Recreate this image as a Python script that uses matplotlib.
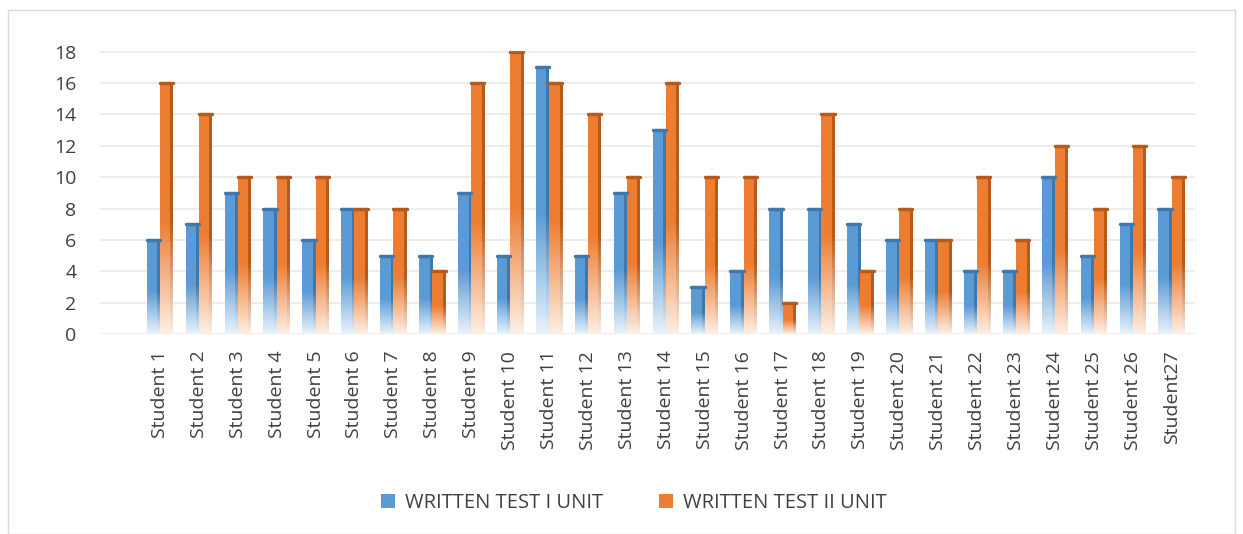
import numpy as np
import matplotlib.pyplot as plt
from matplotlib.colors import LinearSegmentedColormap
from matplotlib.patches import Patch, Rectangle

students = [f"Student {i}" for i in range(1, 27)] + ["Student27"]
test1 = [6, 7, 9, 8, 6, 8, 5, 5, 9, 5, 17, 5, 9, 13, 3, 4, 8, 8, 7, 6, 6, 4, 4, 10, 5, 7, 8]
test2 = [16, 14, 10, 10, 10, 8, 8, 4, 16, 18, 16, 14, 10, 16, 10, 10, 2, 14, 4, 8, 6, 10, 6, 12, 8, 12, 10]
series_names = ["WRITTEN TEST I UNIT", "WRITTEN TEST II UNIT"]

plt.rcParams['font.family'] = ['Open Sans', 'DejaVu Sans']

blue, blue_dark, blue_light = "#5b9bd5", "#3f78ad", "#e8f2fb"
orange, orange_dark, orange_light = "#ed7d31", "#b85a1c", "#fdeee3"

fig = plt.figure(figsize=(12.43, 5.34), dpi=100)
ax = fig.add_axes([100 / 1243, 200 / 534, 1095 / 1243, 283 / 534])

# outer chart border
fig.patches.append(Rectangle((8 / 1243, 0), 1227 / 1243, 524 / 534, transform=fig.transFigure,
                             fill=False, edgecolor="#d9d9d9", lw=1))

def grad_cmap(light, col):
    # light at the bottom, solid from mid height upwards
    return LinearSegmentedColormap.from_list("g", [(0, light), (0.45, col), (1, col)])

grad = np.linspace(0, 1, 100).reshape(-1, 1)
w = 0.34
x = np.arange(len(students))
specs = [(test1, -w / 2, blue, blue_dark, blue_light), (test2, w / 2, orange, orange_dark, orange_light)]
for vals, off, col, dark, light in specs:
    cm_main = grad_cmap(light, col)
    cm_side = grad_cmap(light, dark)
    for xi, v in zip(x, vals):
        x0, x1 = xi + off - w / 2, xi + off + w / 2
        ax.imshow(grad, cmap=cm_main, origin="lower", aspect="auto",
                  extent=[x0, x1 - 0.07, 0, v], zorder=3, interpolation="bilinear")
        ax.imshow(grad, cmap=cm_side, origin="lower", aspect="auto",
                  extent=[x1 - 0.07, x1, 0, v], zorder=3, interpolation="bilinear")
        ax.plot([x0, x1], [v, v], color=dark, lw=2.5, zorder=4, solid_capstyle="round")

ax.set_xlim(-1.54, 26.6)
ax.set_ylim(0, 18.05)
ax.set_yticks(range(0, 19, 2))
ax.set_xticks(x)
ax.set_xticklabels(students, rotation=90, fontsize=14, color="#404040")
ax.tick_params(axis="y", length=0, pad=17, labelsize=14, labelcolor="#404040")
ax.tick_params(axis="x", length=0, pad=12)
ax.grid(axis="y", color="#eaeaea", lw=1.2, zorder=0)
for s in ax.spines.values():
    s.set_visible(False)

handles = [Patch(facecolor=blue, label=series_names[0]), Patch(facecolor=orange, label=series_names[1])]
fig.legend(handles=handles, loc="center", bbox_to_anchor=(0.51, 0.058), ncol=2, frameon=False,
           fontsize=14.5, handlelength=0.7, handleheight=0.7, handletextpad=0.5,
           columnspacing=2.8, labelcolor="#404040")

fig.savefig("out.png", dpi=100, facecolor="white")
